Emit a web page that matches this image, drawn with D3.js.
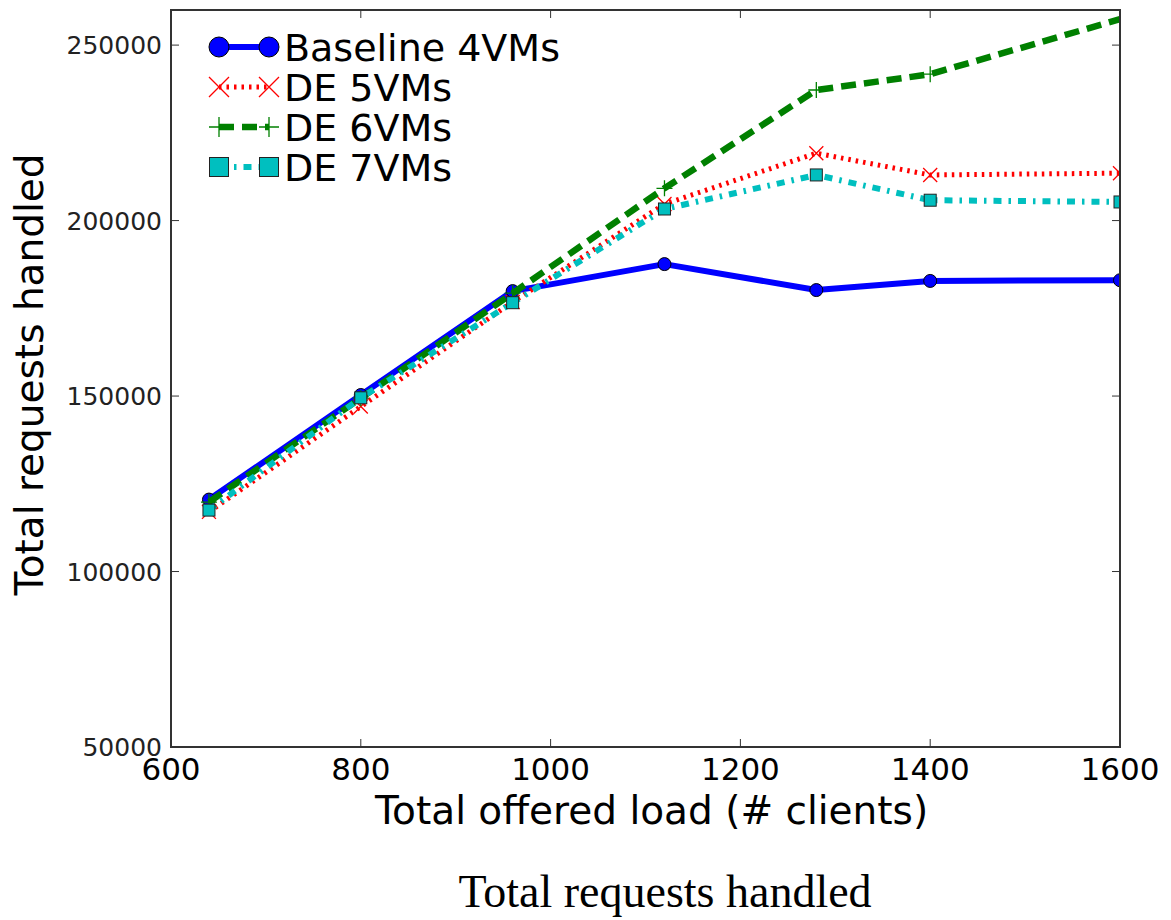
<!DOCTYPE html>
<html>
<head>
<meta charset="utf-8">
<script src="https://cdn.jsdelivr.net/npm/d3@7"></script>
<style>
  body { margin: 0; background: #fff; }
  text { font-family: "DejaVu Sans", sans-serif; fill: #000; }
</style>
</head>
<body>
<svg id="chart" width="1171" height="920"></svg>
<script>
// offered load (# clients) on the x axis
const clients = [640, 800, 960, 1120, 1280, 1400, 1600]

// total requests handled, one array per configuration
const baseline4 = [120500, 150300, 179900, 187600, 180200, 182800, 183000]
const de5 = [117000, 147000, 176800, 204700, 219200, 213000, 213500]
const de6 = [119800, 149400, 179300, 209200, 237200, 241700, 257400]
const de7 = [117500, 149500, 176600, 203300, 213000, 205800, 205300]

const seriesNames = ['Baseline 4VMs', 'DE 5VMs', 'DE 6VMs', 'DE 7VMs']
const xTicks = [600, 800, 1000, 1200, 1400, 1600]
const yTicks = [50000, 100000, 150000, 200000, 250000]

const series = [
  { name: seriesNames[0], values: baseline4, color: '#0000ff', dash: null, width: 6, marker: 'circle' },
  { name: seriesNames[1], values: de5, color: '#ff0000', dash: '2.5,5', width: 5, marker: 'x' },
  { name: seriesNames[2], values: de6, color: '#008000', dash: '15,8', width: 6.5, marker: 'plus' },
  { name: seriesNames[3], values: de7, color: '#00bfbf', dash: '8,7,2.5,7', width: 6, marker: 'square' }
]

const margin = { left: 171, top: 10, right: 51, bottom: 173 }
const width = 1171 - margin.left - margin.right
const height = 920 - margin.top - margin.bottom

const svg = d3.select('#chart')
const g = svg.append('g').attr('transform', `translate(${margin.left},${margin.top})`)

const x = d3.scaleLinear().domain([600, 1600]).range([0, width])
const y = d3.scaleLinear().domain([50000, 260000]).range([height, 0])

g.append('clipPath').attr('id', 'plot-clip')
  .append('rect').attr('width', width).attr('height', height)

// draws one marker of the given kind centred on (cx, cy)
const drawMarker = (sel, s, cx, cy, size) => {
  if (s.marker === 'circle') {
    sel.append('circle').attr('cx', cx).attr('cy', cy).attr('r', size)
      .attr('fill', s.color).attr('stroke', '#000').attr('stroke-width', 1)
  } else if (s.marker === 'square') {
    sel.append('rect').attr('x', cx - size).attr('y', cy - size)
      .attr('width', size * 2).attr('height', size * 2)
      .attr('fill', s.color).attr('stroke', '#222').attr('stroke-width', 1)
  } else if (s.marker === 'x') {
    sel.append('path')
      .attr('d', `M${cx - size},${cy - size}L${cx + size},${cy + size}M${cx - size},${cy + size}L${cx + size},${cy - size}`)
      .attr('stroke', s.color).attr('stroke-width', 1.3).attr('fill', 'none')
  } else {
    sel.append('path')
      .attr('d', `M${cx - size},${cy}L${cx + size},${cy}M${cx},${cy - size}L${cx},${cy + size}`)
      .attr('stroke', s.color).attr('stroke-width', 1.3).attr('fill', 'none')
  }
}

const markerSize = { circle: 6.5, square: 6, x: 7, plus: 8 }
const legendMarkerSize = { circle: 10, square: 9.5, x: 10, plus: 10 }

const plot = g.append('g').attr('clip-path', 'url(#plot-clip)')
const line = d3.line().x((d, i) => x(clients[i])).y(d => y(d))

series.forEach(s => {
  plot.append('path')
    .datum(s.values)
    .attr('d', line)
    .attr('fill', 'none')
    .attr('stroke', s.color)
    .attr('stroke-width', s.width)
    .attr('stroke-dasharray', s.dash)
    .attr('stroke-linejoin', 'round')

  const marks = plot.append('g')
  s.values.forEach((v, i) => drawMarker(marks, s, x(clients[i]), y(v), markerSize[s.marker]))
})

// frame and inward ticks on all four sides
const tickLen = 8
const frame = g.append('g').attr('stroke', '#333').attr('fill', 'none')
frame.append('rect').attr('width', width).attr('height', height).attr('stroke-width', 2)

xTicks.forEach(t => {
  frame.append('line').attr('x1', x(t)).attr('x2', x(t)).attr('y1', height).attr('y2', height - tickLen)
  frame.append('line').attr('x1', x(t)).attr('x2', x(t)).attr('y1', 0).attr('y2', tickLen)
})
yTicks.forEach(t => {
  frame.append('line').attr('x1', 0).attr('x2', tickLen).attr('y1', y(t)).attr('y2', y(t))
  frame.append('line').attr('x1', width).attr('x2', width - tickLen).attr('y1', y(t)).attr('y2', y(t))
})

g.append('g').selectAll('text')
  .data(xTicks)
  .join('text')
  .attr('x', d => x(d))
  .attr('y', height + 11)
  .attr('dy', '0.71em')
  .attr('text-anchor', 'middle')
  .style('font-size', '31px')
  .text(d => d)

g.append('g').selectAll('text')
  .data(yTicks)
  .join('text')
  .attr('x', -9)
  .attr('y', d => y(d))
  .attr('dy', '0.36em')
  .attr('text-anchor', 'end')
  .style('font-size', '25px')
  .style('fill', '#222')
  .text(d => d)

// axis labels and caption
g.append('text')
  .attr('x', width / 2 + 6)
  .attr('y', 824 - margin.top)
  .attr('text-anchor', 'middle')
  .style('font-size', '39px')
  .text('Total offered load (# clients)')

svg.append('text')
  .attr('transform', `translate(43,${margin.top + height / 2 - 4}) rotate(-90)`)
  .attr('text-anchor', 'middle')
  .style('font-size', '39px')
  .text('Total requests handled')

svg.append('text')
  .attr('x', 665)
  .attr('y', 907)
  .attr('text-anchor', 'middle')
  .style('font-family', '"Liberation Serif", "Times New Roman", serif')
  .style('font-size', '46px')
  .text('Total requests handled')

// legend, no box
const legend = svg.append('g')
series.forEach((s, i) => {
  const ly = 47 + i * 40
  legend.append('line')
    .attr('x1', 219).attr('x2', 269).attr('y1', ly).attr('y2', ly)
    .attr('stroke', s.color).attr('stroke-width', s.width)
    .attr('stroke-dasharray', s.dash)
  drawMarker(legend, s, 219, ly, legendMarkerSize[s.marker])
  drawMarker(legend, s, 269, ly, legendMarkerSize[s.marker])
  legend.append('text')
    .attr('x', 284).attr('y', ly).attr('dy', '0.36em')
    .style('font-size', '38px')
    .text(s.name)
})
</script>
</body>
</html>
